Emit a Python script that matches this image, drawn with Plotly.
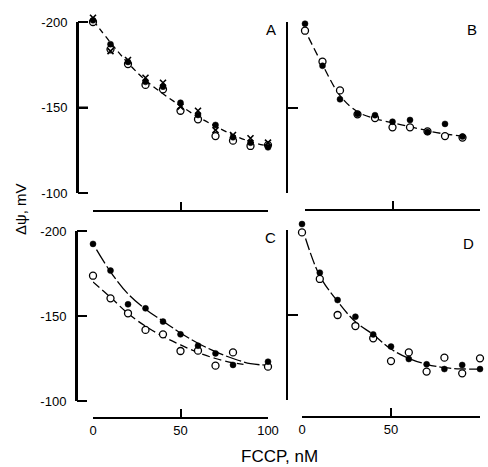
import plotly.graph_objects as go

W, H = 488, 467

# ---------------- data (values in mV, plotted as negative potentials) ----------------
fccp = [0, 10, 20, 30, 40, 50, 60, 70, 80, 90, 100]

# Panel A
A_filled = [201, 187, 176.6, 165, 162.2, 152.8, 145.6, 139.8, 132.6, 129.4, 126.7]
A_open = [200, 184, 175.4, 163.2, 160.6, 148.1, 143.1, 133.3, 130.6, 127.5, 128]
A_cross = [202.5, 183, 177.8, 167.4, 164.5, 150.5, 148.1, 136.8, 133.9, 132, 129.5]
A_fit_x = [0, 10, 20, 30, 40, 50, 60, 70, 80, 90, 100]
A_fit_y = [201, 188, 176, 166, 158, 151, 144.5, 139, 134, 130, 127.5]

# Panel B
B_x = [0, 10, 20, 30, 40, 50, 60, 70, 80, 90]
B_filled = [199, 174.4, 154.8, 146.2, 145.5, 141.7, 142.7, 135.7, 140.4, 133]
B_open = [194.9, 176.8, 160, 146, 143.8, 138.4, 138.4, 136, 133.3, 132.4]
B_fit_x = [2, 10, 20, 30, 40, 50, 60, 70, 80, 90]
B_fit_y = [191, 175, 157, 147.5, 143.5, 141, 138.8, 136.4, 134.5, 133.3]

# Panel C
C_x = [0, 10, 20, 30, 40, 50, 60, 70, 80, 100]
C_filled = [192.4, 176.7, 156.9, 154.5, 146.7, 139.2, 132.5, 128, 121.2, 123.1]
C_open = [173.7, 160.4, 151.6, 141.8, 139.2, 129.4, 129.6, 120.8, 128.6, 120.2]
C_fit1_x = [2, 10, 20, 30, 40, 50, 60, 70, 80, 90, 100]
C_fit1_y = [189, 176, 163, 154, 147, 140, 134, 129, 125, 122, 121]
C_fit2_x = [0, 10, 20, 30, 40, 50, 60, 70, 80, 86]
C_fit2_y = [170, 161, 151.5, 144, 138, 133, 128.5, 125, 122.5, 121.5]

# Panel D
D_x = [0, 10, 20, 30, 40, 50, 60, 70, 80, 90, 100]
D_filled = [203.5, 174.9, 158.8, 149, 138.6, 131.4, 124.1, 121, 118.2, 120.6, 118.2]
D_open = [198.6, 171.2, 150, 143.5, 136.3, 122.9, 128, 116.7, 124.9, 115.7, 124.5]
D_fit_x = [2, 10, 20, 30, 40, 50, 60, 70, 80, 90, 100]
D_fit_y = [195, 173, 158, 146, 138.5, 130, 124.5, 121, 119, 118.3, 118.2]

y_ticks = [-200, -150, -100]
y_tick_text = ["-200", "-150", "-100"]
x_ticks = [0, 50, 100]
x_tick_text = ["0", "50", "100"]
panel_letters = ["A", "B", "C", "D"]

FONT = "Liberation Sans, Arial, sans-serif"
Y_EXT = 6  # headroom (mV) above -200 so points slightly beyond the bracket stay visible

def neg(v):
    return [-a for a in v]

def px_x(p):
    return p / W

def px_y(p):
    return 1 - p / H

def ref(letter, k):
    return letter + ("" if k == 1 else str(k))

def axname(letter, k):
    return letter + "axis" + ("" if k == 1 else str(k))

fig = go.Figure()

# panel geometry in pixels: (x0, x100, y_m200, y_m100, yaxis_x, xaxis_y)
geom = [
    (93, 268, 22, 193, 78, 211),
    (305, 480, 22, 193, 288, 210),
    (93, 268, 231, 401, 77, 418),
    (302, 480, 230, 400, 288, 417),
]

layout_axes = {}
frame_x, frame_y = [], []   # bracket lines for the left column, in page pixels
for i, (x0, x1, ytop, ybot, yax, xax) in enumerate(geom):
    k = i + 1        # data axes
    kd = i + 5       # display axes for the y bracket
    left = i in (0, 2)
    bottom = i in (2, 3)
    ppu_y = (ybot - ytop) / 100.0
    ytop_ext = ytop - Y_EXT * ppu_y
    layout_axes[axname("x", k)] = dict(
        domain=[px_x(x0), px_x(x1)], range=[0, 100], autorange=False,
        anchor="free", position=px_y(xax), automargin=False,
        showline=True, linewidth=2, linecolor="black",
        ticks="inside", ticklen=8, tickwidth=2, tickcolor="black",
        tickvals=x_ticks, ticktext=x_tick_text, showticklabels=bottom,
        showgrid=False, zeroline=False,
        tickfont=dict(family=FONT, size=13, color="black"),
    )
    layout_axes[axname("y", k)] = dict(
        domain=[px_y(ybot), px_y(ytop_ext)], range=[-100, -(200 + Y_EXT)], autorange=False,
        anchor=ref("x", k), visible=False, automargin=False,
        showgrid=False, zeroline=False,
    )
    layout_axes[axname("x", kd)] = dict(
        domain=[px_x(yax), px_x(x1)], range=[0, 1], autorange=False,
        anchor=ref("y", kd), visible=False, automargin=False,
        showgrid=False, zeroline=False,
    )
    layout_axes[axname("y", kd)] = dict(
        domain=[px_y(ybot), px_y(ytop)], range=[-100, -200], autorange=False,
        anchor=ref("x", kd), automargin=False,
        showline=True, linewidth=2, linecolor="black",
        ticks="inside", ticklen=10, tickwidth=2, tickcolor="black",
        tickvals=y_ticks, ticktext=y_tick_text, showticklabels=left,
        ticklabelstandoff=6,
        showgrid=False, zeroline=False,
        tickfont=dict(family=FONT, size=13, color="black"),
    )
    fig.add_trace(go.Scatter(x=[None], y=[None], mode="markers", xaxis=ref("x", kd), yaxis=ref("y", kd),
                             hoverinfo="skip", showlegend=False))
    if left:
        # vertical bracket line
        frame_x += [yax, yax, None]
        frame_y += [ybot, ytop, None]
        # inward ticks at the tick values
        for tv in y_ticks:
            py = ytop + (tv + 200) / 100.0 * (ybot - ytop)
            frame_x += [yax, yax + 10, None]
            frame_y += [py, py, None]

# full-page overlay axes (pixel units) for the left-column bracket lines
layout_axes["xaxis9"] = dict(domain=[0, 1], range=[0, W], autorange=False, visible=False,
                             anchor="y9", automargin=False, fixedrange=True)
layout_axes["yaxis9"] = dict(domain=[0, 1], range=[H, 0], autorange=False, visible=False,
                             anchor="x9", automargin=False, fixedrange=True)
fig.add_trace(go.Scatter(x=frame_x, y=frame_y, mode="lines", xaxis="x9", yaxis="y9",
                         line=dict(color="black", width=2), cliponaxis=False,
                         hoverinfo="skip", showlegend=False))

def add_line(i, xs, ys, dash):
    k = i + 1
    fig.add_trace(go.Scatter(x=xs, y=neg(ys), mode="lines",
                             line=dict(color="black", width=1.3, dash=dash, shape="spline", smoothing=1.0),
                             xaxis=ref("x", k), yaxis=ref("y", k), cliponaxis=False, hoverinfo="skip"))

def add_open(i, xs, ys):
    k = i + 1
    fig.add_trace(go.Scatter(x=xs, y=neg(ys), mode="markers",
                             marker=dict(symbol="circle", size=7, color="white",
                                         line=dict(color="black", width=1.3)),
                             xaxis=ref("x", k), yaxis=ref("y", k), cliponaxis=False))

def add_filled(i, xs, ys):
    k = i + 1
    fig.add_trace(go.Scatter(x=xs, y=neg(ys), mode="markers",
                             marker=dict(symbol="circle", size=6, color="black",
                                         line=dict(color="black", width=0.5)),
                             xaxis=ref("x", k), yaxis=ref("y", k), cliponaxis=False))

def add_cross(i, xs, ys):
    k = i + 1
    fig.add_trace(go.Scatter(x=xs, y=neg(ys), mode="markers",
                             marker=dict(symbol="x-thin", size=6, color="black",
                                         line=dict(color="black", width=1.6)),
                             xaxis=ref("x", k), yaxis=ref("y", k), cliponaxis=False))

# Panel A
add_line(0, A_fit_x, A_fit_y, "6px,4px")
add_open(0, fccp, A_open)
add_filled(0, fccp, A_filled)
add_cross(0, fccp, A_cross)
# Panel B
add_line(1, B_fit_x, B_fit_y, "8px,4px")
add_open(1, B_x, B_open)
add_filled(1, B_x, B_filled)
# Panel C
add_line(2, C_fit1_x, C_fit1_y, "16px,3px")
add_line(2, C_fit2_x, C_fit2_y, "8px,4px")
add_open(2, C_x, C_open)
add_filled(2, C_x, C_filled)
# Panel D
add_line(3, D_fit_x, D_fit_y, "12px,3px")
add_open(3, D_x, D_open)
add_filled(3, D_x, D_filled)

letter_pos = [(271, 29), (472, 29), (270, 238), (468, 243)]
annotations = []
for letter, (lx, ly) in zip(panel_letters, letter_pos):
    annotations.append(dict(text=letter, x=px_x(lx), y=px_y(ly), xref="paper", yref="paper",
                            showarrow=False, xanchor="center", yanchor="middle",
                            font=dict(family=FONT, size=15, color="black")))
annotations.append(dict(text="FCCP, nM", x=px_x(279), y=px_y(456), xref="paper", yref="paper",
                        showarrow=False, xanchor="center", yanchor="middle",
                        font=dict(family=FONT, size=17, color="black")))
annotations.append(dict(text="Δψ, mV", x=px_x(20), y=px_y(209), xref="paper", yref="paper",
                        showarrow=False, xanchor="center", yanchor="middle", textangle=-90,
                        font=dict(family=FONT, size=15, color="black")))

fig.update_layout(
    template="none",
    width=W, height=H,
    margin=dict(l=0, r=0, t=0, b=0, pad=0),
    paper_bgcolor="white", plot_bgcolor="rgba(0,0,0,0)",
    showlegend=False,
    annotations=annotations,
    **layout_axes,
)

fig.write_html(
    "out.html",
    config={"staticPlot": True, "displayModeBar": False},
    post_script="document.body.style.margin='0';document.body.style.padding='0';document.body.style.overflow='hidden';",
)
